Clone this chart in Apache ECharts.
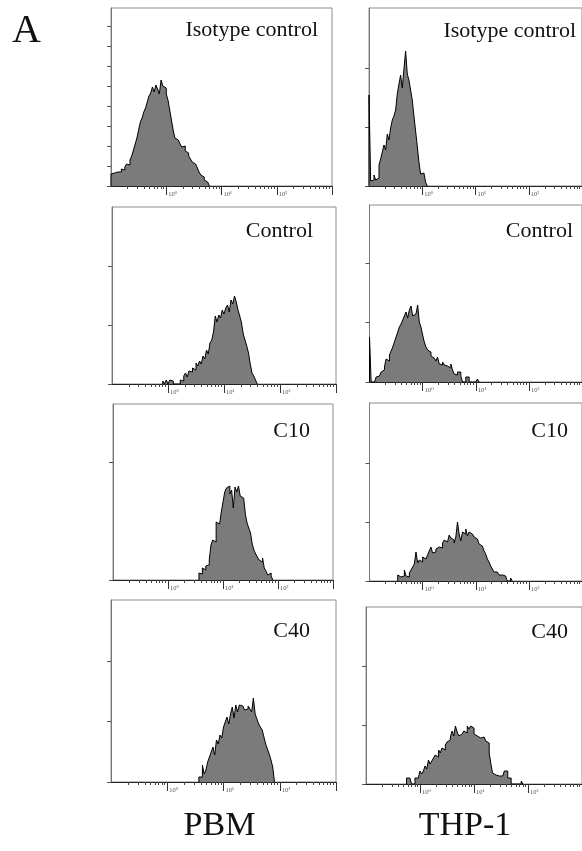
<!DOCTYPE html>
<html><head><meta charset="utf-8">
<script src="https://cdn.jsdelivr.net/npm/echarts@6/dist/echarts.min.js"></script>
<style>html,body{margin:0;padding:0;background:#fff}#c{width:582px;height:851px}</style>
</head><body><div id="c"></div>
<script>
// ---------- DATA ----------
const panelTitles = ['Isotype control','Isotype control','Control','Control','C10','C10','C40','C40'];
const columnLabels = ['PBM','THP-1'];
const figureLetter = 'A';
const decadeTickValues = [0,1,2,3];          // log10 positions of major ticks
const decadeLabelValues = [0,1,2];
const decadeLabels = {0:'10\u2070',1:'10\u00B9',2:'10\u00B2'};
const channelsPerDecade = 32;                 // histogram channels per decade, axis starts at 10^-1
const histStart = [0,0,29,0,50,17,50,24];     // first channel of each histogram
const isoPBM  = [12,13,11,14,15,14,17,16,19,22,21,26,30,36,42,48,56,64,68,74,78,84,90,93,99,94,101,97,92,106,100,98,92,86,76,66,56,48,46,44,42,39,40,35,33,30,27,24,22,20,18,14,11,9,6,4,2];
const isoTHP  = [91,5,6,11,6,8,21,27,34,41,36,52,46,58,66,70,76,92,102,111,98,117,135,112,106,96,86,70,55,40,24,12,13,11,4];
const ctrlPBM = [3,0,4,0,4,3,0,0,0,0,4,3,8,11,7,13,12,16,14,21,18,23,20,28,25,34,30,41,44,52,68,62,69,66,74,70,76,79,72,84,80,88,82,74,68,61,50,44,38,31,20,11,8,4];
const ctrlTHP = [45,0,0,0,5,6,7,10,12,15,23,21,27,31,35,40,45,50,55,58,62,66,70,64,72,76,66,68,70,77,60,55,47,40,35,32,30,26,24,23,21,25,18,17,20,17,16,17,14,18,12,8,7,10,10,6,0,0,5,5,0,0,0,0,0,3];
const c10PBM  = [7,6,12,10,14,15,20,35,40,38,58,56,58,68,78,88,92,94,86,90,72,93,88,94,84,82,80,66,57,52,47,36,30,26,23,20,18,22,12,9,5,7,4];
const c10THP  = [6,4,6,5,11,5,4,8,11,14,17,29,18,21,19,24,22,22,26,30,34,28,29,32,34,36,33,38,41,39,41,46,43,41,38,44,59,47,40,49,47,52,45,49,47,46,44,42,40,37,35,34,30,27,22,19,15,12,9,9,7,6,6,7,5,4,0,0,3];
const c40PBM  = [5,5,17,8,12,20,25,30,35,27,42,38,47,44,55,60,65,58,68,75,64,77,70,77,76,78,72,73,76,73,70,84,68,63,58,55,52,45,38,33,28,22,15];
const c40THP  = [6,6,6,0,0,6,6,8,13,10,13,18,15,24,20,23,26,29,27,34,31,36,34,39,42,44,47,53,48,58,52,48,50,48,53,51,58,55,58,56,50,48,48,46,44,47,46,43,41,31,20,11,9,8,8,8,8,8,13,13,6,6,0,0,0,0,0,0,3];
const histograms = [isoPBM, isoTHP, ctrlPBM, ctrlTHP, c10PBM, c10THP, c40PBM, c40THP];
const yMax = [178,178,177,177,176,178,182,177];
const yTickStep = [20,59,59,59.5,118,59,60.5,59];

// ---------- LAYOUT ----------
const grids = [
  {left:111, top:8,   width:221, height:178},
  {left:369, top:8,   width:222, height:178},
  {left:112, top:207, width:224, height:177},
  {left:369.5, top:205, width:222, height:177},
  {left:113, top:404, width:220, height:176},
  {left:369.5, top:403, width:222, height:178},
  {left:111, top:600, width:225, height:182},
  {left:366, top:607, width:224, height:177}
];
const titlePos = [[318,30.5],[576,31.5],[313,231],[573,231],[310,431.5],[568,431.7],[310,631.7],[568,632]];
const SERIF = '"Liberation Serif","DejaVu Serif",serif';

const minorTicks = [];
for (let d = -1; d < 3; d++) for (let k = 2; k <= 9; k++) minorTicks.push(d + Math.log10(k));

const xAxes = [], yAxes = [], series = [];
grids.forEach((g, i) => {
  xAxes.push({
    type:'value', gridIndex:i, min:-1, max:3, position:'bottom',
    axisLine:{show:true, onZero:false, lineStyle:{color:'#222', width:1}},
    axisTick:{show:true, customValues:decadeTickValues, length:9, lineStyle:{color:'#333', width:1}},
    axisLabel:{show:true, customValues:decadeLabelValues, formatter:v => decadeLabels[Math.round(v)],
      align:'left', margin:5, fontSize:6.5, color:'#555', fontFamily:SERIF, padding:[0,0,0,2]},
    splitLine:{show:false}
  });
  xAxes.push({
    type:'value', gridIndex:i, min:-1, max:3, position:'bottom',
    axisLine:{show:false, onZero:false},
    axisTick:{show:true, customValues:minorTicks, length:3, lineStyle:{color:'#444', width:1}},
    axisLabel:{show:false}, splitLine:{show:false}
  });
  const yt = [];
  for (let v = 0; v < yMax[i] - 2; v += yTickStep[i]) yt.push(v);
  yAxes.push({
    type:'value', gridIndex:i, min:0, max:yMax[i], position:'left',
    axisLine:{show:true, onZero:false, lineStyle:{color:'#777', width:1}},
    axisTick:{show:true, customValues:yt, length:4, lineStyle:{color:'#555', width:1}},
    axisLabel:{show:false}, splitLine:{show:false}
  });
  const h = histograms[i], s0 = histStart[i];
  const edge = c => -1 + c / channelsPerDecade;
  const pts = [[edge(s0), 0]];
  h.forEach((v, j) => pts.push([edge(s0 + j), v]));
  pts.push([edge(s0 + h.length), 0]);
  series.push({
    type:'line', xAxisIndex:2*i, yAxisIndex:i, data:pts, step:'end', symbol:'none',
    lineStyle:{color:'#000', width:1}, areaStyle:{color:'#7b7b7b', opacity:1},
    silent:true, animation:false, clip:true
  });
});

const graphic = panelTitles.map((t, i) => ({
  type:'text', x:titlePos[i][0], y:titlePos[i][1], z:100,
  style:{text:t, font:'22px ' + SERIF, fill:'#111', align:'right', textAlign:'right', verticalAlign:'middle', textVerticalAlign:'middle'}
}));
graphic.push({type:'text', x:26.5, y:31.5, style:{text:figureLetter, font:'40px ' + SERIF, fill:'#111', align:'center', textAlign:'center', verticalAlign:'middle', textVerticalAlign:'middle'}});
graphic.push({type:'text', x:219.5, y:826, style:{text:columnLabels[0], font:'34px ' + SERIF, fill:'#111', align:'center', textAlign:'center', verticalAlign:'middle', textVerticalAlign:'middle'}});
graphic.push({type:'text', x:465, y:826, style:{text:columnLabels[1], font:'34px ' + SERIF, fill:'#111', align:'center', textAlign:'center', verticalAlign:'middle', textVerticalAlign:'middle'}});

const chart = echarts.init(document.getElementById('c'), null, {renderer:'canvas'});
chart.setOption({
  animation:false,
  backgroundColor:'#fff',
  grid: grids.map(g => Object.assign({show:true, borderColor:'#8c8c8c', borderWidth:1, containLabel:false}, g)),
  xAxis: xAxes, yAxis: yAxes, series, graphic
});
</script></body></html>
